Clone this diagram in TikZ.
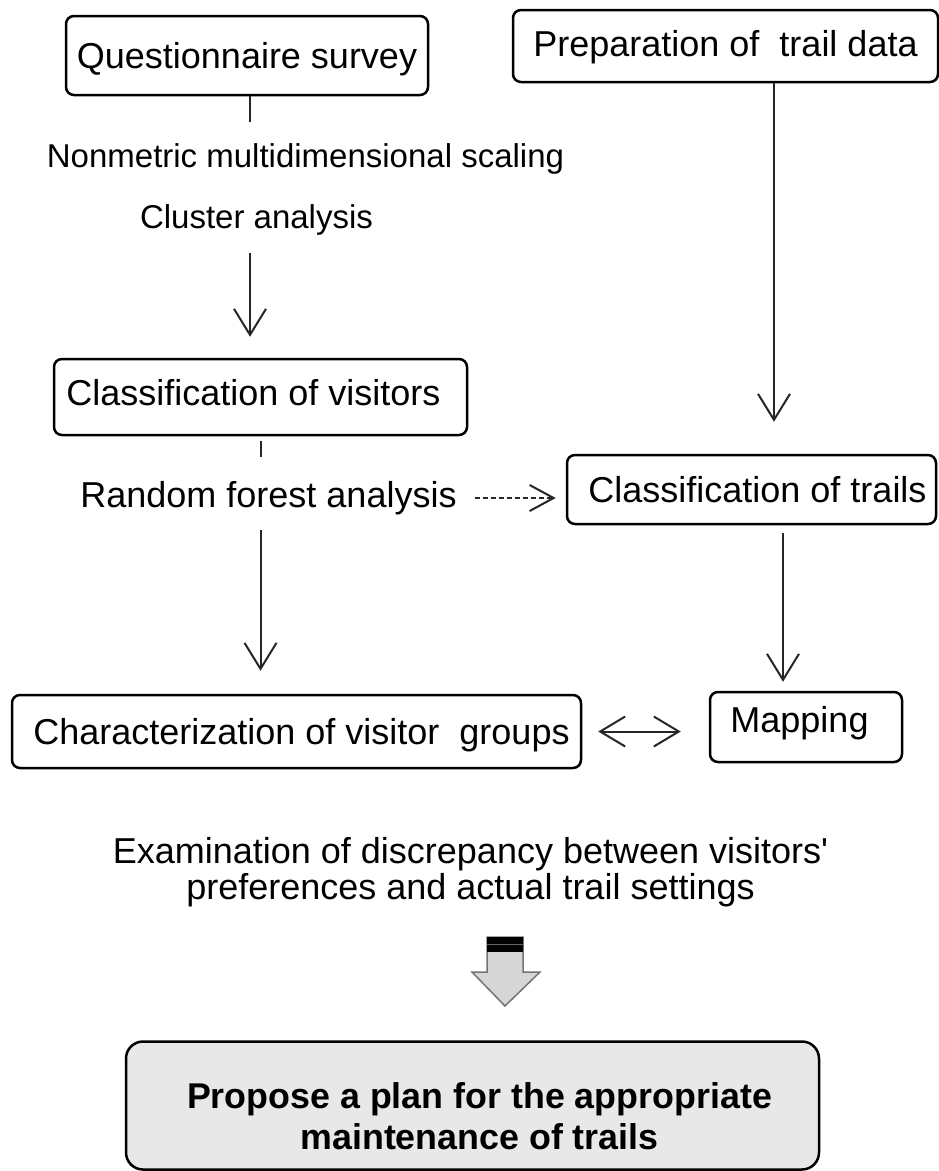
\documentclass[tikz,border=0pt]{standalone}
\usepackage{fontspec}
\setmainfont{Liberation Sans}[Ligatures=TeXOff]
\usetikzlibrary{arrows.meta}
\tikzset{
  box/.style={draw=black, line width=2.5pt, rounded corners=8pt, inner sep=0pt,
    font=\fontsize{36}{40}\selectfont, text height=25.8pt, text depth=0pt},
  planbox/.style={draw=black, line width=2.5pt, rounded corners=17pt, inner sep=0pt,
    fill=black!9, font=\fontsize{35.8}{41}\selectfont\bfseries},
  lbl/.style={inner sep=0pt, font=\fontsize{36}{40}\selectfont, text height=26pt, text depth=8pt},
  slbl/.style={inner sep=0pt, font=\fontsize{33}{36}\selectfont, text height=24pt, text depth=7pt},
  ln/.style={draw=black!85, line width=2pt},
  arr/.style={ln, -{Straight Barb[length=26pt,width=32pt]}},
  dasharr/.style={ln, dash pattern=on 5pt off 3pt, -{Straight Barb[length=24pt,width=26pt]}},
  dblarr/.style={ln, {Straight Barb[length=25pt,width=30pt]}-{Straight Barb[length=25pt,width=30pt]}},
  fatarrow/.style={fill=black!16, draw=black!55, line width=1.5pt, line join=miter}
}
\begin{document}
\begin{tikzpicture}[x=1pt,y=-1pt]
\useasboundingbox (0,0) rectangle (939,1171);
\fill[white] (0,0) rectangle (939,1171);

% column coordinates
\coordinate (colA) at (250,0);
\coordinate (colB) at (260.5,0);
\coordinate (colC) at (774,0);
\coordinate (colD) at (783,0);

% boxes
\node[box, minimum width=362pt, minimum height=79pt] (qs) at (247,55.5) {Questionnaire survey};
\node[box, minimum width=425pt, minimum height=72pt, text depth=5pt] (prep) at (725.5,46) {Preparation of\ \ trail data};
\node[box, minimum width=413pt, minimum height=76pt, text depth=9pt] (cv) at (260.5,397) {Classification of visitors\hspace*{14pt}};
\node[box, minimum width=369pt, minimum height=69pt] (ct) at (751.5,489.5) {\hspace*{12pt}Classification of trails};
\node[box, minimum width=569pt, minimum height=73pt] (cg) at (296.5,731.5) {\hspace*{10pt}Characterization of visitor\ \ groups};
\node[box, minimum width=192pt, minimum height=70pt, text depth=14pt] (map) at (806,727) {Mapping\hspace*{13pt}};

% labels
\node[slbl] (nmds) at (305.5,158.5) {Nonmetric multidimensional scaling};
\node[slbl] (ca) at (256.5,219.5) {Cluster analysis};
\node[lbl] (rf) at (268.5,498) {Random forest analysis};
\node[inner sep=0pt, font=\fontsize{36}{35}\selectfont] (exam) at (470.5,871.5)
  {\raisebox{0pt}[26pt][43pt]{\begin{tabular}[t]{@{}c@{}}Examination of discrepancy between visitors'\\preferences and actual trail settings\end{tabular}}};

% final box
\node[planbox, minimum width=693pt, minimum height=128pt] (plan) at (472.5,1105.5)
  {\hspace*{14pt}\raisebox{0pt}[52pt][47pt]{\begin{tabular}[t]{@{}c@{}}Propose a plan for the appropriate\\maintenance of trails\end{tabular}}};

% connectors
\draw[ln, shorten >=21pt] (qs.south -| colA) -- (nmds.north -| colA);
\draw[arr, shorten <=18pt, shorten >=21pt] (ca.south -| colA) -- (cv.north -| colA);
\draw[arr, shorten >=32pt] (prep.south -| colC) -- (ct.north -| colC);
\draw[ln, shorten <=5pt, shorten >=24pt] (cv.south -| colB) -- (rf.north -| colB);
\draw[arr, shorten <=15pt, shorten >=23pt] (rf.south -| colB) -- (cg.north -| colB);
\draw[arr, shorten <=8pt, shorten >=9pt] (ct.south -| colD) -- (map.north -| colD);
\draw[dasharr, shorten <=18pt, shorten >=10pt] (rf.east) -- (rf.east -| ct.west);
\draw[dblarr, shorten <=16pt, shorten >=28pt] (cg.east) -- (cg.east -| map.west);

% block arrow from the examination text to the plan
\coordinate (fa) at (505,937);
\path[fatarrow] (fa) ++(-18,0) -- ++(36,0) -- ++(0,35) -- ++(17,0)
  -- ++(-35,34) -- ++(-33,-34) -- ++(15,0) -- cycle;
\fill[black] (fa) ++(-18,0) rectangle ++(36,15);
\draw[black!60, line width=1.5pt] (fa) ++(-18,7.5) -- ++(36,0);
\end{tikzpicture}
\end{document}
